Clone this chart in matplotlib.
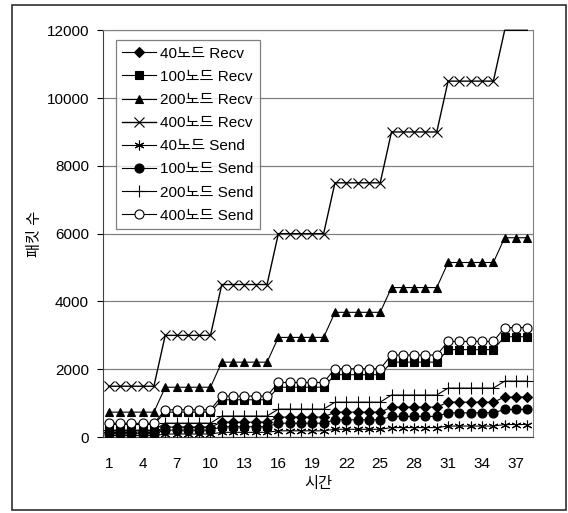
import numpy as np
import matplotlib.pyplot as plt
from matplotlib.patches import Rectangle

plt.rcParams['font.family'] = ['Liberation Sans', 'Noto Sans CJK KR', 'DejaVu Sans']

# 시간 (1 ~ 38)
time = list(range(1, 39))

recv_40 = [150, 150, 150, 150, 150, 295, 295, 295, 295, 295,
           440, 440, 440, 440, 440, 590, 590, 590, 590, 590,
           735, 735, 735, 735, 735, 885, 885, 885, 885, 885,
           1030, 1030, 1030, 1030, 1030, 1180, 1180, 1180]
recv_100 = [370, 370, 370, 370, 370, 735, 735, 735, 735, 735,
            1100, 1100, 1100, 1100, 1100, 1470, 1470, 1470, 1470, 1470,
            1840, 1840, 1840, 1840, 1840, 2210, 2210, 2210, 2210, 2210,
            2580, 2580, 2580, 2580, 2580, 2960, 2960, 2960]
recv_200 = [735, 735, 735, 735, 735, 1470, 1470, 1470, 1470, 1470,
            2210, 2210, 2210, 2210, 2210, 2940, 2940, 2940, 2940, 2940,
            3680, 3680, 3680, 3680, 3680, 4410, 4410, 4410, 4410, 4410,
            5150, 5150, 5150, 5150, 5150, 5880, 5880, 5880]
recv_400 = [1500, 1500, 1500, 1500, 1500, 3000, 3000, 3000, 3000, 3000,
            4500, 4500, 4500, 4500, 4500, 6000, 6000, 6000, 6000, 6000,
            7500, 7500, 7500, 7500, 7500, 9000, 9000, 9000, 9000, 9000,
            10500, 10500, 10500, 10500, 10500, 12000, 12000, 12000]
send_40 = [45, 45, 45, 45, 45, 90, 90, 90, 90, 90,
           140, 140, 140, 140, 140, 185, 185, 185, 185, 185,
           230, 230, 230, 230, 230, 280, 280, 280, 280, 280,
           325, 325, 325, 325, 325, 370, 370, 370]
send_100 = [100, 100, 100, 100, 100, 205, 205, 205, 205, 205,
            305, 305, 305, 305, 305, 410, 410, 410, 410, 410,
            510, 510, 510, 510, 510, 610, 610, 610, 610, 610,
            715, 715, 715, 715, 715, 815, 815, 815]
send_200 = [205, 205, 205, 205, 205, 410, 410, 410, 410, 410,
            620, 620, 620, 620, 620, 825, 825, 825, 825, 825,
            1030, 1030, 1030, 1030, 1030, 1240, 1240, 1240, 1240, 1240,
            1445, 1445, 1445, 1445, 1445, 1650, 1650, 1650]
send_400 = [405, 405, 405, 405, 405, 805, 805, 805, 805, 805,
            1210, 1210, 1210, 1210, 1210, 1610, 1610, 1610, 1610, 1610,
            2015, 2015, 2015, 2015, 2015, 2420, 2420, 2420, 2420, 2420,
            2820, 2820, 2820, 2820, 2820, 3230, 3230, 3230]

series = [
    ('40노드 Recv', recv_40, 'D', 'black', 5.5),
    ('100노드 Recv', recv_100, 's', 'black', 5.5),
    ('200노드 Recv', recv_200, '^', 'black', 5.5),
    ('400노드 Recv', recv_400, 'x', 'none', 7),
    ('40노드 Send', send_40, (6, 2, 0), 'none', 7),
    ('100노드 Send', send_100, 'o', 'black', 6.5),
    ('200노드 Send', send_200, '+', 'none', 8),
    ('400노드 Send', send_400, 'o', 'white', 6.5),
]

fig = plt.figure(figsize=(5.68, 5.13), dpi=100)
ax = fig.add_axes([0.1813, 0.148, 0.757, 0.793])

for label, vals, mk, fc, ms in series:
    top = vals is recv_400
    # 상단(12000) 구간은 엑셀처럼 마커 없이 선만 보이게
    mev = list(range(35)) if top else None
    ax.plot(time, vals, color='black', lw=1.0 if top else 0.8, marker=mk,
            markersize=ms, markerfacecolor=fc, markeredgecolor='black',
            markeredgewidth=0.8, markevery=mev, label=label,
            clip_on=not top, zorder=3)

ax.set_xlim(0.5, 38.5)
ax.set_ylim(0, 12000)
ax.set_xticks(list(range(1, 38, 3)))
ax.set_yticks(list(range(0, 12001, 2000)))
ax.tick_params(axis='x', length=0, pad=14, labelsize=11)
ax.tick_params(axis='y', length=4, direction='out', labelsize=11, pad=6)
ax.yaxis.grid(True, color='#808080', lw=0.9)
ax.set_axisbelow(True)
for s in ['top', 'right']:
    ax.spines[s].set_color('#808080')
for s in ['left', 'bottom']:
    ax.spines[s].set_color('#404040')

ax.set_xlabel('시간', fontsize=11, labelpad=5)
ax.set_ylabel('패킷 수', fontsize=11, labelpad=3)

leg = ax.legend(loc='upper left', bbox_to_anchor=(0.03, 0.975), fontsize=11,
                frameon=True, fancybox=False, edgecolor='#606060',
                handlelength=2.2, labelspacing=0.6, borderpad=0.4,
                handletextpad=0.3, borderaxespad=0)
leg.get_frame().set_linewidth(0.9)
leg.set_zorder(5)

fig.patches.append(Rectangle((12 / 568, 3 / 513), 554 / 568, 505 / 513,
                             transform=fig.transFigure, fill=False,
                             edgecolor='#303030', lw=1.2))

fig.savefig('out.png', dpi=100)
